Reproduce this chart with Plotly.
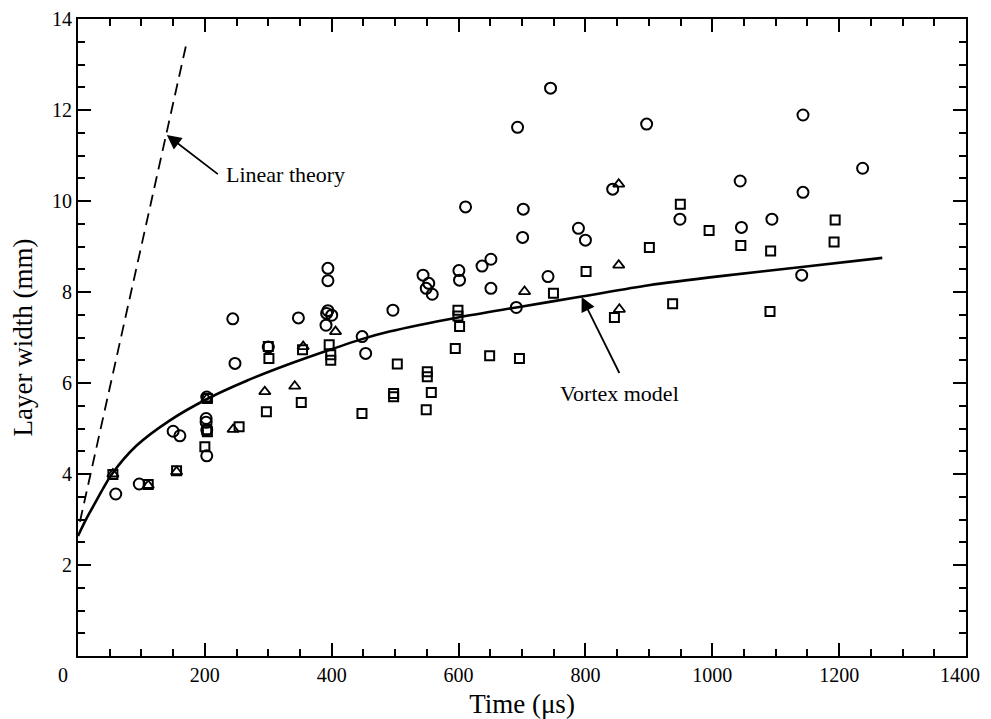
import plotly.graph_objects as go

# ---- data ----
circle_t = [59.5, 96.6, 150, 160.6, 203, 202, 202, 203, 203, 244, 247.5, 300, 347.5,
            394, 394, 394, 392, 400, 391, 448, 453.5, 496.5, 544, 553, 549, 558.5,
            600.5, 601.5, 611, 637, 651, 651, 691, 693, 701, 702, 741, 745, 789, 800,
            843, 896.5, 949, 1044, 1046, 1094, 1141, 1143, 1143, 1237]
circle_w = [3.56, 3.78, 4.94, 4.84, 5.69, 5.22, 5.14, 4.97, 4.40, 7.41, 6.43, 6.79, 7.43,
            8.52, 8.25, 7.59, 7.53, 7.49, 7.27, 7.02, 6.65, 7.60, 8.37, 8.19, 8.08, 7.95,
            8.47, 8.26, 9.87, 8.57, 8.72, 8.08, 7.66, 11.62, 9.20, 9.82, 8.34, 12.48, 9.40, 9.14,
            10.26, 11.69, 9.60, 10.44, 9.42, 9.60, 8.37, 11.89, 10.19, 10.72]

square_t = [55, 110.7, 155.4, 204, 203, 204, 200, 254, 297, 300, 301, 352, 354,
            396, 398.5, 398.5, 447.7, 497.6, 497.6, 503.4, 549, 550.7, 550.7, 557,
            594.8, 599, 599, 601.6, 649, 696, 749.6, 801, 845.7, 900.8, 937.5, 949.6,
            995, 1045, 1092, 1091, 1193.7, 1192]
square_w = [3.99, 3.77, 4.07, 5.66, 4.97, 4.93, 4.60, 5.04, 5.37, 6.80, 6.54, 5.57, 6.73,
            6.84, 6.62, 6.50, 5.33, 5.77, 5.70, 6.42, 5.41, 6.25, 6.14, 5.79,
            6.76, 7.60, 7.47, 7.24, 6.60, 6.54, 7.97, 8.45, 7.44, 8.98, 7.74, 9.93,
            9.35, 9.02, 8.90, 7.57, 9.58, 9.10]

triangle_t = [55, 110.7, 155.4, 203, 244.6, 294.5, 341.7, 355, 406, 704, 852.5, 852.5, 853.5]
triangle_w = [4.00, 3.75, 4.05, 5.65, 4.98, 5.81, 5.93, 6.80, 7.13, 8.01, 10.37, 8.59, 7.62]

vortex_t = [0, 13.7, 26.8, 39.9, 53, 92, 145, 205, 266, 330, 397, 449, 491,
            599, 691, 794, 900, 1020, 1141, 1268]
vortex_w = [2.64, 3.03, 3.36, 3.69, 3.99, 4.62, 5.18, 5.66, 6.05, 6.40, 6.73, 6.97, 7.13,
            7.44, 7.66, 7.90, 8.15, 8.36, 8.55, 8.75]

linear_t = [3, 170]
linear_w = [2.95, 13.4]

x_tickvals = [200, 400, 600, 800, 1000, 1200, 1400]
x_ticktext = ["200", "400", "600", "800", "1000", "1200", ""]
y_tickvals = [2, 4, 6, 8, 10, 12, 14]

FONT = "Liberation Serif, Times New Roman, serif"
BLACK = "black"

fig = go.Figure()

fig.add_trace(go.Scatter(x=linear_t, y=linear_w, mode="lines",
                         line=dict(color=BLACK, width=1.8, dash="12px,7px"),
                         hoverinfo="skip"))
fig.add_trace(go.Scatter(x=vortex_t, y=vortex_w, mode="lines",
                         line=dict(color=BLACK, width=2.6, shape="spline", smoothing=0.8),
                         hoverinfo="skip"))
fig.add_trace(go.Scatter(x=circle_t, y=circle_w, mode="markers",
                         marker=dict(symbol="circle-open", size=11, color=BLACK,
                                     line=dict(width=2, color=BLACK))))
fig.add_trace(go.Scatter(x=square_t, y=square_w, mode="markers",
                         marker=dict(symbol="square-open", size=9, color=BLACK,
                                     line=dict(width=2, color=BLACK))))
fig.add_trace(go.Scatter(x=triangle_t, y=triangle_w, mode="markers",
                         marker=dict(symbol="triangle-up-open", size=10, color=BLACK,
                                     line=dict(width=1.8, color=BLACK))))

axis_common = dict(
    showgrid=False, zeroline=False, showline=True, linecolor=BLACK, linewidth=2,
    mirror="allticks", ticks="inside", ticklen=13, tickwidth=2, tickcolor=BLACK,
    tickfont=dict(family=FONT, size=20, color=BLACK), automargin=False,
)

fig.update_layout(
    width=983, height=711,
    margin=dict(l=70, r=25, t=11, b=63),
    paper_bgcolor="white", plot_bgcolor="white",
    showlegend=False,
    font=dict(family=FONT, color=BLACK),
    xaxis=dict(range=[0, 1400], tickvals=x_tickvals, ticktext=x_ticktext, ticklabelstandoff=0,
               minor=dict(dtick=50, ticks="inside", ticklen=7, tickwidth=1.5, tickcolor=BLACK),
               title=dict(text="Time (\u03bcs)", font=dict(family=FONT, size=27, color=BLACK),
                          standoff=12),
               **axis_common),
    yaxis=dict(range=[0, 14], tickvals=y_tickvals, ticklabelstandoff=0,
               minor=dict(dtick=0.5, ticks="inside", ticklen=7, tickwidth=1.5, tickcolor=BLACK),
               title=dict(text="Layer width (mm)", font=dict(family=FONT, size=27, color=BLACK),
                          standoff=13),
               **axis_common),
    annotations=[
        dict(x=140, y=11.45, xref="x", yref="y", ax=220.5, ay=10.59, axref="x", ayref="y",
             text="Linear theory", showarrow=True, arrowhead=2, arrowsize=1.6, arrowwidth=1.8,
             arrowcolor=BLACK, xanchor="left", yanchor="middle", borderpad=7,
             font=dict(family=FONT, size=22, color=BLACK)),
        dict(x=794, y=7.89, xref="x", yref="y", ax=853.5, ay=6.22, axref="x", ayref="y",
             text="Vortex model", showarrow=True, arrowhead=2, arrowsize=1.6, arrowwidth=1.8,
             arrowcolor=BLACK, xanchor="center", yanchor="top", borderpad=7,
             font=dict(family=FONT, size=22, color=BLACK)),
        dict(x=-0.0169, y=0, xref="paper", yref="paper", text="0", showarrow=False,
             xanchor="center", yanchor="top", yshift=-6,
             font=dict(family=FONT, size=20, color=BLACK)),
        dict(x=1, y=0, xref="paper", yref="paper", text=str(x_tickvals[-1]), showarrow=False,
             xanchor="center", yanchor="top", yshift=-6, xshift=-6,
             font=dict(family=FONT, size=20, color=BLACK)),
    ],
)

fig.write_html("out.html")
